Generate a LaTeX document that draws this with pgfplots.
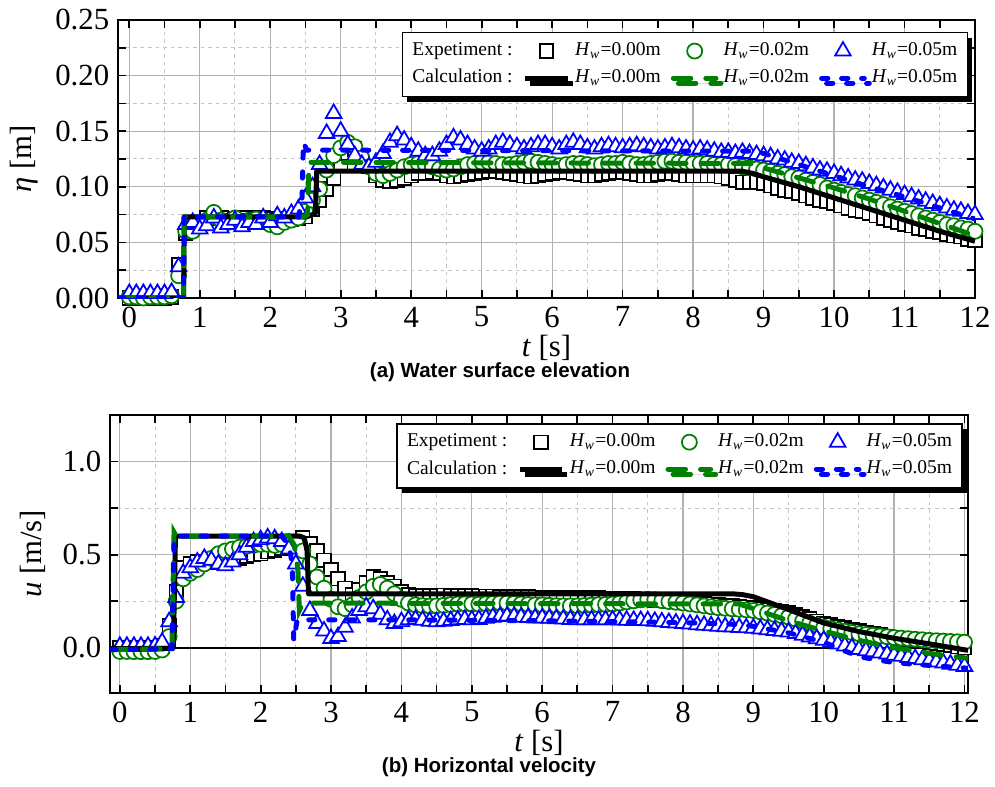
\documentclass[border=0pt]{standalone}
\usepackage{pgfplots}
\pgfplotsset{compat=1.18}
\usepackage{pgfplotstable}
\usepackage{fontspec}
\setmainfont{Liberation Serif}
\newfontfamily\capfont{Liberation Sans}
\usetikzlibrary{shadows}

\definecolor{expgreen}{RGB}{0,128,0}
\definecolor{expblue}{RGB}{0,0,255}

% measured data: t, Hw=0.00 (S), Hw=0.02 (C), Hw=0.05 (T)
\pgfplotstableread{
t S C T
0.0 0.000 0.001 0.004
0.1 0.000 0.001 0.004
0.2 0.000 0.000 0.004
0.3 0.000 0.001 0.004
0.4 0.000 0.001 0.004
0.5 0.000 0.001 0.004
0.6 0.001 0.002 0.005
0.7 0.030 0.020 0.028
0.8 0.058 0.060 0.066
0.9 0.063 0.060 0.068
1.0 0.068 0.065 0.062
1.1 0.072 0.070 0.065
1.2 0.073 0.077 0.072
1.3 0.072 0.070 0.063
1.4 0.070 0.068 0.066
1.5 0.071 0.072 0.070
1.6 0.072 0.068 0.064
1.7 0.070 0.070 0.068
1.8 0.072 0.071 0.066
1.9 0.072 0.070 0.072
2.0 0.071 0.066 0.068
2.1 0.070 0.064 0.074
2.2 0.071 0.068 0.072
2.3 0.071 0.070 0.076
2.4 0.072 0.072 0.080
2.5 0.073 0.078 0.090
2.6 0.080 0.088 0.100
2.7 0.088 0.098 0.120
2.8 0.098 0.115 0.148
2.9 0.108 0.128 0.166
3.0 0.120 0.135 0.150
3.1 0.130 0.140 0.138
3.2 0.134 0.136 0.128
3.3 0.128 0.126 0.120
3.4 0.118 0.118 0.118
3.5 0.110 0.112 0.122
3.6 0.106 0.110 0.130
3.7 0.105 0.112 0.140
3.8 0.106 0.115 0.146
3.9 0.108 0.118 0.142
4.0 0.110 0.120 0.136
4.1 0.112 0.121 0.132
4.2 0.112 0.120 0.128
4.3 0.113 0.118 0.128
4.4 0.112 0.116 0.132
4.5 0.110 0.115 0.138
4.6 0.109 0.116 0.144
4.7 0.110 0.118 0.142
4.8 0.111 0.120 0.138
4.9 0.112 0.121 0.134
5.0 0.113 0.122 0.132
5.1 0.114 0.122 0.134
5.2 0.114 0.121 0.138
5.3 0.113 0.120 0.140
5.4 0.112 0.120 0.138
5.5 0.111 0.121 0.136
5.6 0.110 0.122 0.134
5.7 0.109 0.123 0.136
5.8 0.110 0.122 0.138
5.9 0.111 0.121 0.138
6.0 0.112 0.120 0.136
6.1 0.113 0.119 0.134
6.2 0.113 0.120 0.138
6.3 0.112 0.121 0.140
6.4 0.111 0.121 0.138
6.5 0.110 0.120 0.135
6.6 0.110 0.119 0.134
6.7 0.111 0.120 0.136
6.8 0.112 0.121 0.137
6.9 0.113 0.121 0.136
7.0 0.113 0.122 0.135
7.1 0.112 0.121 0.136
7.2 0.111 0.120 0.137
7.3 0.110 0.120 0.136
7.4 0.110 0.121 0.135
7.5 0.111 0.122 0.134
7.6 0.112 0.123 0.135
7.7 0.112 0.123 0.136
7.8 0.111 0.122 0.135
7.9 0.110 0.122 0.134
8.0 0.110 0.121 0.133
8.1 0.110 0.121 0.134
8.2 0.110 0.121 0.133
8.3 0.110 0.120 0.132
8.4 0.109 0.120 0.131
8.5 0.108 0.120 0.131
8.6 0.106 0.119 0.130
8.7 0.104 0.118 0.131
8.8 0.104 0.117 0.130
8.9 0.104 0.116 0.129
9.0 0.103 0.115 0.128
9.1 0.101 0.114 0.127
9.2 0.099 0.112 0.125
9.3 0.097 0.111 0.124
9.4 0.096 0.109 0.122
9.5 0.094 0.108 0.121
9.6 0.092 0.106 0.119
9.7 0.090 0.104 0.117
9.8 0.088 0.102 0.115
9.9 0.087 0.099 0.114
10.0 0.085 0.097 0.112
10.1 0.083 0.095 0.110
10.2 0.081 0.093 0.108
10.3 0.079 0.092 0.106
10.4 0.078 0.090 0.105
10.5 0.076 0.088 0.103
10.6 0.074 0.086 0.101
10.7 0.072 0.084 0.099
10.8 0.070 0.082 0.097
10.9 0.068 0.080 0.095
11.0 0.066 0.078 0.093
11.1 0.065 0.076 0.091
11.2 0.063 0.074 0.089
11.3 0.062 0.072 0.087
11.4 0.060 0.070 0.085
11.5 0.059 0.068 0.083
11.6 0.057 0.066 0.081
11.7 0.056 0.065 0.079
11.8 0.055 0.063 0.078
11.9 0.053 0.062 0.076
12.0 0.052 0.060 0.075
}\etadata

\pgfplotstableread{
t S C T
0.0 0.000 -0.020 0.008
0.1 0.000 -0.020 0.008
0.2 0.000 -0.021 0.008
0.3 0.000 -0.021 0.008
0.4 -0.001 -0.021 0.008
0.5 0.000 -0.020 0.010
0.6 0.010 -0.012 0.030
0.7 0.120 0.060 0.140
0.8 0.300 0.250 0.270
0.9 0.430 0.370 0.400
1.0 0.450 0.400 0.430
1.1 0.460 0.420 0.460
1.2 0.460 0.450 0.480
1.3 0.460 0.480 0.470
1.4 0.470 0.505 0.450
1.5 0.470 0.520 0.440
1.6 0.480 0.530 0.460
1.7 0.480 0.540 0.500
1.8 0.490 0.545 0.540
1.9 0.500 0.550 0.570
2.0 0.505 0.555 0.580
2.1 0.515 0.555 0.590
2.2 0.525 0.550 0.585
2.3 0.535 0.555 0.570
2.4 0.550 0.570 0.530
2.5 0.570 0.570 0.450
2.6 0.590 0.520 0.330
2.7 0.560 0.450 0.200
2.8 0.520 0.380 0.130
2.9 0.470 0.320 0.090
3.0 0.420 0.260 0.050
3.1 0.370 0.220 0.060
3.2 0.320 0.210 0.110
3.3 0.285 0.230 0.160
3.4 0.310 0.270 0.200
3.5 0.350 0.300 0.220
3.6 0.380 0.330 0.210
3.7 0.370 0.340 0.180
3.8 0.350 0.320 0.150
3.9 0.330 0.290 0.130
4.0 0.300 0.260 0.140
4.1 0.285 0.240 0.150
4.2 0.280 0.230 0.152
4.3 0.278 0.226 0.148
4.4 0.280 0.224 0.142
4.5 0.281 0.225 0.140
4.6 0.282 0.228 0.142
4.7 0.281 0.232 0.146
4.8 0.280 0.235 0.150
4.9 0.279 0.236 0.152
5.0 0.278 0.235 0.150
5.1 0.277 0.234 0.152
5.2 0.276 0.236 0.158
5.3 0.276 0.238 0.164
5.4 0.275 0.240 0.168
5.5 0.275 0.240 0.170
5.6 0.274 0.238 0.168
5.7 0.273 0.235 0.164
5.8 0.272 0.232 0.162
5.9 0.271 0.230 0.160
6.0 0.270 0.230 0.160
6.1 0.270 0.228 0.158
6.2 0.270 0.226 0.156
6.3 0.270 0.225 0.154
6.4 0.270 0.225 0.152
6.5 0.270 0.225 0.150
6.6 0.269 0.227 0.150
6.7 0.268 0.229 0.150
6.8 0.267 0.231 0.150
6.9 0.266 0.233 0.150
7.0 0.265 0.235 0.150
7.1 0.264 0.240 0.149
7.2 0.263 0.246 0.148
7.3 0.262 0.252 0.147
7.4 0.261 0.257 0.146
7.5 0.260 0.260 0.145
7.6 0.257 0.258 0.142
7.7 0.254 0.253 0.139
7.8 0.251 0.248 0.136
7.9 0.248 0.244 0.133
8.0 0.245 0.240 0.130
8.1 0.242 0.235 0.127
8.2 0.239 0.230 0.124
8.3 0.236 0.225 0.121
8.4 0.233 0.220 0.118
8.5 0.230 0.215 0.115
8.6 0.227 0.212 0.113
8.7 0.224 0.209 0.111
8.8 0.221 0.206 0.109
8.9 0.218 0.203 0.107
9.0 0.215 0.200 0.105
9.1 0.210 0.193 0.101
9.2 0.205 0.186 0.097
9.3 0.200 0.179 0.093
9.4 0.195 0.172 0.089
9.5 0.190 0.165 0.085
9.6 0.178 0.154 0.076
9.7 0.166 0.143 0.067
9.8 0.154 0.132 0.058
9.9 0.142 0.121 0.049
10.0 0.130 0.110 0.040
10.1 0.122 0.103 0.030
10.2 0.114 0.096 0.020
10.3 0.106 0.089 0.010
10.4 0.098 0.082 0.000
10.5 0.090 0.075 -0.010
10.6 0.083 0.071 -0.016
10.7 0.076 0.067 -0.022
10.8 0.069 0.063 -0.028
10.9 0.062 0.059 -0.034
11.0 0.055 0.055 -0.040
11.1 0.050 0.052 -0.046
11.2 0.045 0.049 -0.052
11.3 0.040 0.046 -0.058
11.4 0.035 0.043 -0.064
11.5 0.030 0.040 -0.070
11.6 0.024 0.038 -0.076
11.7 0.018 0.036 -0.082
11.8 0.012 0.034 -0.088
11.9 0.006 0.032 -0.094
12.0 0.000 0.030 -0.100
}\udata

\pgfplotsset{
  % frame, grid, ticks and labels (marker plots go here)
  waveax/.style={
    scale only axis,
    anchor=north west,
    axis line style={line width=1pt},
    tick align=inside,
    tick style={black, line width=0.7pt},
    major tick length=3.2pt, minor tick length=3.2pt,
    grid=both,
    major grid style={gray!60, line width=0.5pt},
    minor grid style={gray!45, line width=0.4pt, dash pattern=on 1.5pt off 1.5pt},
    xtick distance=1, minor x tick num=1,
    tick label style={font=\fontsize{12.3}{14}\selectfont},
    label style={font=\fontsize{12.3}{14}\selectfont},
    xlabel style={yshift=4pt},
    /pgf/number format/assume math mode=true,
    xlabel={\textit{t} [s]},
  },
  % overlay axis for the calculated lines, drawn on top of the markers
  lineax/.style={
    scale only axis,
    anchor=north west,
    hide axis,
    legend columns=4,
    legend cell align=left,
    legend style={draw=black, line width=0.6pt, fill=white,
      font=\fontsize{7.8}{9.6}\selectfont,
      drop shadow={shadow xshift=2pt, shadow yshift=-2pt, fill=black, opacity=1},
      anchor=north east, inner sep=2pt,
      /tikz/every even column/.append style={column sep=2pt}},
  },
  panelA/.style={at={(47.2pt,-8pt)}, width=342.8pt, height=111.2pt,
    xmin=-0.16, xmax=12, ymin=0, ymax=0.25},
  panelB/.style={at={(44pt,-166pt)}, width=343.2pt, height=111.2pt,
    xmin=-0.14, xmax=12.05, ymin=-0.243, ymax=1.25},
  sq/.style={only marks, mark=square*, mark size=2.7pt, black,
    mark options={solid, fill=white, draw=black, line width=0.7pt}},
  ci/.style={only marks, mark=*, mark size=3pt, expgreen,
    mark options={solid, fill=white, draw=expgreen, line width=0.7pt}},
  tr/.style={only marks, mark=triangle*, mark size=3.6pt, expblue,
    mark options={solid, fill=white, draw=expblue, line width=0.7pt}},
  calA/.style={black, line width=2pt, line join=round, no marks},
  calB/.style={expgreen, line width=2pt, line cap=round, dash pattern=on 7pt off 6pt, no marks},
  calC/.style={expblue, line width=2pt, line cap=round, dash pattern=on 2.5pt off 5.5pt, no marks},
}

\newcommand{\hw}[1]{\textit{H}\textsubscript{\textit{w}}=#1m}

\begin{document}
\begin{tikzpicture}
\useasboundingbox (0,0) rectangle (398pt,-314.8pt);

% (a) water surface elevation
\begin{axis}[waveax, panelA,
    ytick={0,0.05,0.1,0.15,0.2,0.25}, minor y tick num=1,
    yticklabel style={/pgf/number format/.cd, fixed, fixed zerofill, precision=2},
    ylabel={\textit{η} [m]}]
\addplot[sq] table[x=t, y=S] {\etadata};
\addplot[ci] table[x=t, y=C] {\etadata};
\addplot[tr] table[x=t, y=T] {\etadata};
\end{axis}
\begin{axis}[lineax, panelA, legend style={at={(0.992,0.957)}}]
\addlegendimage{empty legend}\addlegendentry{Expetiment :}
\addlegendimage{sq}\addlegendentry{\hw{0.00}}
\addlegendimage{ci}\addlegendentry{\hw{0.02}}
\addlegendimage{tr}\addlegendentry{\hw{0.05}}
\addlegendimage{empty legend}\addlegendentry{Calculation :}
\addplot[calA] coordinates {(-0.16,0) (0.77,0) (0.78,0.073) (2.50,0.073) (2.60,0.075)
  (2.64,0.076) (2.66,0.114) (8.70,0.114) (8.85,0.112) (9.0,0.109) (9.5,0.100)
  (10.0,0.090) (10.5,0.080) (11.0,0.070) (11.5,0.060) (12.0,0.051)};
\addlegendentry{\hw{0.00}}
\addplot[calB] coordinates {(-0.16,0) (0.77,0) (0.78,0.073) (2.48,0.073) (2.53,0.075)
  (2.55,0.122) (8.80,0.121) (9.0,0.117) (9.5,0.108) (10.0,0.099) (10.5,0.089)
  (11.0,0.078) (11.5,0.067) (12.0,0.056)};
\addlegendentry{\hw{0.02}}
\addplot[calC] coordinates {(-0.16,0) (0.77,0) (0.78,0.073) (2.40,0.073) (2.45,0.088)
  (2.47,0.140) (2.52,0.133) (8.80,0.132) (9.0,0.130) (9.5,0.120) (10.0,0.110)
  (10.5,0.100) (11.0,0.091) (11.5,0.081) (12.0,0.071)};
\addlegendentry{\hw{0.05}}
\end{axis}

% (b) horizontal velocity
\begin{axis}[waveax, panelB,
    ytick={0,0.5,1}, minor ytick={-0.25,0.25,0.75,1.25},
    yticklabel style={/pgf/number format/.cd, fixed, fixed zerofill, precision=1},
    extra y ticks={0}, extra y tick labels={},
    extra y tick style={grid=major, major grid style={black, line width=0.6pt}},
    ylabel={\textit{u} [m/s]}]
\addplot[sq] table[x=t, y=S] {\udata};
\addplot[ci] table[x=t, y=C] {\udata};
\addplot[tr] table[x=t, y=T] {\udata};
\end{axis}
\begin{axis}[lineax, panelB, legend style={at={(0.994,0.971)}}]
\addlegendimage{empty legend}\addlegendentry{Expetiment :}
\addlegendimage{sq}\addlegendentry{\hw{0.00}}
\addlegendimage{ci}\addlegendentry{\hw{0.02}}
\addlegendimage{tr}\addlegendentry{\hw{0.05}}
\addlegendimage{empty legend}\addlegendentry{Calculation :}
\addplot[calA] coordinates {(-0.14,-0.005) (0.70,-0.003) (0.76,0.0) (0.79,0.6) (2.55,0.6)
  (2.62,0.59) (2.66,0.52) (2.68,0.29) (8.70,0.29) (8.85,0.285) (9.0,0.274)
  (9.5,0.205) (10.0,0.133) (10.5,0.087) (11.0,0.051) (11.5,0.021) (12.05,-0.014)};
\addlegendentry{\hw{0.00}}
\addplot[calB] coordinates {(-0.14,-0.01) (0.74,-0.005) (0.77,0.62) (0.80,0.60) (2.40,0.60)
  (2.48,0.55) (2.53,0.42) (2.55,0.20) (2.60,0.24) (8.80,0.235) (9.0,0.21)
  (9.5,0.145) (10.0,0.09) (10.5,0.04) (11.0,0.0) (11.5,-0.03) (12.05,-0.057)};
\addlegendentry{\hw{0.02}}
\addplot[calC] coordinates {(-0.14,-0.01) (0.74,-0.005) (0.77,0.58) (0.80,0.60) (2.30,0.60)
  (2.40,0.55) (2.45,0.45) (2.47,0.04) (2.52,0.15) (4.0,0.15) (6.0,0.145) (8.0,0.135)
  (8.8,0.125) (9.0,0.115) (9.5,0.08) (10.0,0.03) (10.5,-0.048) (11.0,-0.08)
  (11.5,-0.095) (12.05,-0.11)};
\addlegendentry{\hw{0.05}}
\end{axis}

\node[font=\capfont\bfseries\fontsize{8.2}{10}\selectfont] at (200pt,-148.8pt) {(a) Water surface elevation};
\node[font=\capfont\bfseries\fontsize{8.2}{10}\selectfont] at (195.6pt,-306.8pt) {(b) Horizontal velocity};
\end{tikzpicture}
\end{document}
